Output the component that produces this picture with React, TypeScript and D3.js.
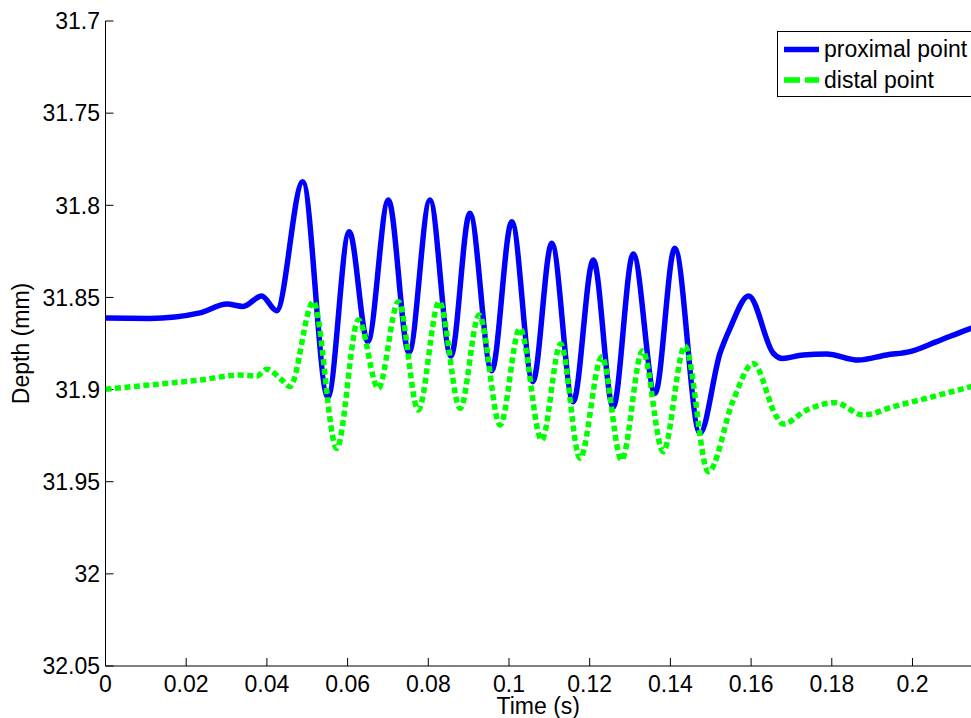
import React from "react";
import * as d3 from "d3";

// Proximal point trace: time (s) and depth (mm)
const proximalTime = [
  0, 0.011, 0.0234, 0.0301, 0.0341, 0.0387, 0.0424, 0.0489, 0.0551, 0.0604,
  0.065, 0.0701, 0.0752, 0.0804, 0.0856, 0.0903, 0.0957, 0.1007, 0.1059,
  0.1106, 0.1159, 0.1209, 0.1258, 0.1308, 0.1362, 0.1411, 0.1473, 0.1523,
  0.1548, 0.1594, 0.1655, 0.1677, 0.1729, 0.1787, 0.1866, 0.1936, 0.1994,
  0.206, 0.2138, 0.2155,
];
const proximalDepth = [
  31.8612, 31.8614, 31.8584, 31.8536, 31.8549, 31.8492, 31.8572, 31.7872,
  31.9042, 31.8143, 31.874, 31.7971, 31.88, 31.7971, 31.8818, 31.8043,
  31.8898, 31.8089, 31.8957, 31.8206, 31.9066, 31.8297, 31.9096, 31.8264,
  31.902, 31.8233, 31.9237, 31.8802, 31.8666, 31.8492, 31.8803, 31.8831,
  31.8812, 31.8807, 31.884, 31.8812, 31.8794, 31.874, 31.8673, 31.866,
];

// Distal point trace: time (s) and depth (mm)
const distalTime = [
  0, 0.011, 0.0234, 0.0333, 0.0375, 0.04, 0.0437, 0.0457, 0.0515, 0.0573,
  0.0627, 0.0676, 0.0726, 0.0775, 0.0827, 0.0879, 0.0926, 0.0978, 0.1027,
  0.1081, 0.1128, 0.1176, 0.123, 0.1279, 0.1331, 0.1382, 0.1436, 0.1494,
  0.1556, 0.1605, 0.1663, 0.1679, 0.1738, 0.1808, 0.1878, 0.1952, 0.2035,
  0.2138, 0.2155,
];
const distalDepth = [
  31.8998, 31.8975, 31.8948, 31.8921, 31.8926, 31.889, 31.8948, 31.8984,
  31.8523, 31.9319, 31.8622, 31.8993, 31.8523, 31.9111, 31.8523, 31.9102,
  31.8595, 31.9192, 31.8668, 31.9274, 31.8753, 31.9373, 31.8822, 31.9382,
  31.8789, 31.9337, 31.8764, 31.9446, 31.9057, 31.8858, 31.9147, 31.9187,
  31.9111, 31.9071, 31.9138, 31.9093, 31.9047, 31.8988, 31.8978,
];

const xTicks = [0, 0.02, 0.04, 0.06, 0.08, 0.1, 0.12, 0.14, 0.16, 0.18, 0.2];
const yTicks = [31.7, 31.75, 31.8, 31.85, 31.9, 31.95, 32, 32.05];
const seriesNames = ["proximal point", "distal point"];

const W = 971;
const H = 718;
const left = 105.5;
const top = 21;
const bottom = 666;
const xMax = 0.2145;
const FONT = "'Liberation Sans', Arial, Helvetica, sans-serif";
const FS = 23;
const LW = 5.5;

export default function App() {
  const x = d3.scaleLinear().domain([0, xMax]).range([left, W]);
  const y = d3.scaleLinear().domain([31.7, 32.05]).range([top, bottom]);

  const line = d3
    .line<[number, number]>()
    .x((d) => x(d[0]))
    .y((d) => y(d[1]))
    .curve(d3.curveMonotoneX);

  const proximal = proximalTime.map((t, i) => [t, proximalDepth[i]] as [number, number]);
  const distal = distalTime.map((t, i) => [t, distalDepth[i]] as [number, number]);

  const fmt = (v: number) => String(+v.toFixed(3));

  return (
    <svg
      width={W}
      height={H}
      style={{ position: "absolute", left: 0, top: 0, background: "#fff" }}
      fontFamily={FONT}
    >
      <defs>
        <clipPath id="plot-area">
          <rect x={left} y={top - 5} width={W - left} height={bottom - top + 10} />
        </clipPath>
      </defs>
      <rect x={0} y={0} width={W} height={H} fill="#fff" />

      {/* axes */}
      <line x1={left} x2={left} y1={top} y2={bottom} stroke="#000" strokeWidth={1} />
      <line x1={left} x2={W} y1={bottom} y2={bottom} stroke="#000" strokeWidth={1} />

      {yTicks.map((v) => (
        <g key={"y" + v}>
          <line x1={left} x2={left + 8} y1={y(v)} y2={y(v)} stroke="#000" strokeWidth={1} />
          <text
            x={left - 5.5}
            y={y(v)}
            dy="0.36em"
            textAnchor="end"
            fontSize={FS}
            fill="#000"
          >
            {fmt(v)}
          </text>
        </g>
      ))}

      {xTicks.map((v) => (
        <g key={"x" + v}>
          <line x1={x(v)} x2={x(v)} y1={bottom} y2={bottom - 8} stroke="#000" strokeWidth={1} />
          <text x={x(v)} y={691.5} textAnchor="middle" fontSize={FS} fill="#000">
            {fmt(v)}
          </text>
        </g>
      ))}

      <text x={(left + W) / 2} y={714} textAnchor="middle" fontSize={FS} fill="#000">
        Time (s)
      </text>
      <text
        transform={`translate(29, ${(top + bottom) / 2}) rotate(-90)`}
        textAnchor="middle"
        fontSize={FS}
        fill="#000"
      >
        Depth (mm)
      </text>

      <g clipPath="url(#plot-area)">
        <path
          d={line(proximal) || ""}
          fill="none"
          stroke="#0000ff"
          strokeWidth={LW}
          strokeLinejoin="round"
        />
        <path
          d={line(distal) || ""}
          fill="none"
          stroke="#00ff00"
          strokeWidth={LW}
          strokeDasharray="6,3.5"
        />
      </g>

      {/* legend */}
      <g>
        <rect x={777.5} y={31.5} width={220} height={65} fill="#fff" stroke="#000" strokeWidth={1} />
        <line x1={784} x2={819} y1={49.5} y2={49.5} stroke="#0000ff" strokeWidth={LW} />
        <line
          x1={784}
          x2={819}
          y1={80}
          y2={80}
          stroke="#00ff00"
          strokeWidth={LW}
          strokeDasharray="16,5"
        />
        <text x={824} y={57} fontSize={FS} fill="#000">
          {seriesNames[0]}
        </text>
        <text x={824} y={87.5} fontSize={FS} fill="#000">
          {seriesNames[1]}
        </text>
      </g>
    </svg>
  );
}
